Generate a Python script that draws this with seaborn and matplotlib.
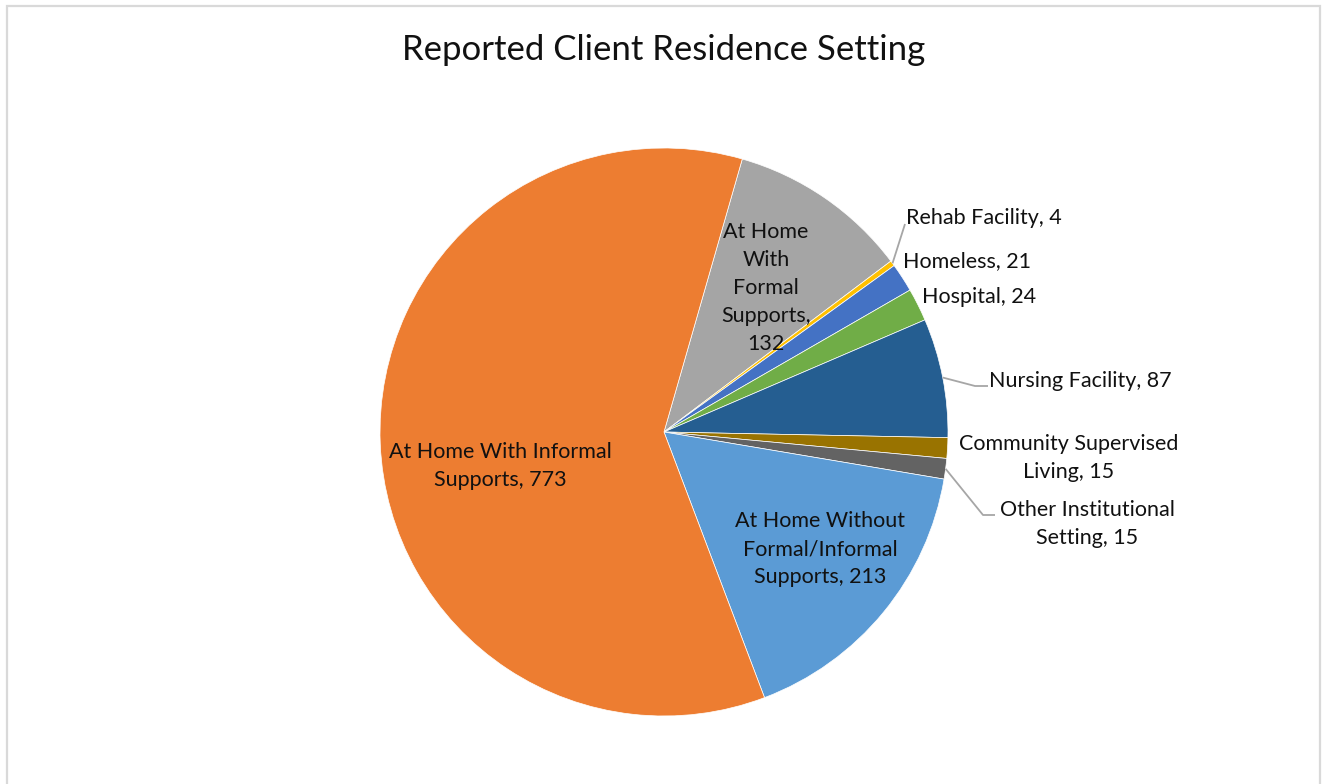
import numpy as np
import matplotlib
matplotlib.use("Agg")
import matplotlib.pyplot as plt
import matplotlib.patches as mpatches
import seaborn as sns

# Residence setting categories, in clockwise drawing order
categories = [
    "At Home\nWith\nFormal\nSupports",
    "Rehab Facility",
    "Homeless",
    "Hospital",
    "Nursing Facility",
    "Community Supervised\nLiving",
    "Other Institutional\nSetting",
    "At Home Without\nFormal/Informal\nSupports",
    "At Home With Informal\nSupports",
]
counts = [132, 4, 21, 24, 87, 15, 15, 213, 773]
colors = ["#A5A5A5", "#FFC000", "#4472C4", "#70AD47", "#255E91",
          "#997300", "#636363", "#5B9BD5", "#ED7D31"]
# separator between category name and count in each label
separators = [",\n", ", ", ", ", ", ", ", ", ", ", ", ", ", ", ", "]

sns.set_theme(style="white")
plt.rcParams["font.family"] = ["Lato", "DejaVu Sans"]

W, H = 1323, 784
fig = plt.figure(figsize=(W / 100, H / 100), dpi=100)
ax = fig.add_axes([0, 0, 1, 1])

cx, cy, R = 664, H - 432, 284
wedges, _ = ax.pie(counts, colors=colors, startangle=74, counterclock=False,
                   center=(cx, cy), radius=R,
                   wedgeprops=dict(edgecolor="white", linewidth=0.5))
ax.set_xlim(0, W)
ax.set_ylim(0, H)
ax.set_aspect("auto")
ax.axis("off")

txt = dict(fontsize=15.5, color="#111111", linespacing=1.5)

def Y(y):
    return H - y

def label_text(i):
    return f"{categories[i]}{separators[i]}{counts[i]}"

def edge_point(i):
    w = wedges[i]
    a = np.deg2rad((w.theta1 + w.theta2) / 2)
    return cx + R * np.cos(a), cy + R * np.sin(a)

# Labels inside the large slices
ax.text(766, Y(288), label_text(0), ha="center", va="center", **txt)
ax.text(820, Y(549), label_text(7), ha="center", va="center", **txt)
ax.text(500, Y(466), label_text(8), ha="center", va="center", **txt)

# Labels outside the small slices
ax.text(906, Y(218), label_text(1), ha="left", va="center", **txt)
ax.text(903, Y(261), label_text(2), ha="left", va="center", **txt)
ax.text(922, Y(297), label_text(3), ha="left", va="center", **txt)
ax.text(989, Y(381), label_text(4), ha="left", va="center", **txt)
ax.text(1069, Y(458), label_text(5), ha="center", va="center", **txt)
ax.text(1087, Y(524), label_text(6), ha="center", va="center", **txt)

# Leader lines from slice edges to their labels
lead = dict(color="#A6A6A6", linewidth=1.3, solid_capstyle="butt")
x0, y0 = edge_point(1)
ax.plot([x0, 905], [y0, Y(224)], **lead)
x0, y0 = edge_point(4)
ax.plot([x0, 975, 988], [y0, Y(386), Y(386)], **lead)
x0, y0 = edge_point(6)
ax.plot([x0, 983, 995], [y0, Y(515), Y(515)], **lead)

ax.text(664, Y(50), "Reported Client Residence Setting", ha="center",
        va="center", fontsize=25, color="#111111")

# Chart-area frame
ax.add_patch(mpatches.Rectangle((7, -10), 1313, H - 6 + 10, fill=False,
                                edgecolor="#D9D9D9", linewidth=1.6,
                                clip_on=False))

fig.savefig("out.png", dpi=100, facecolor="white")
